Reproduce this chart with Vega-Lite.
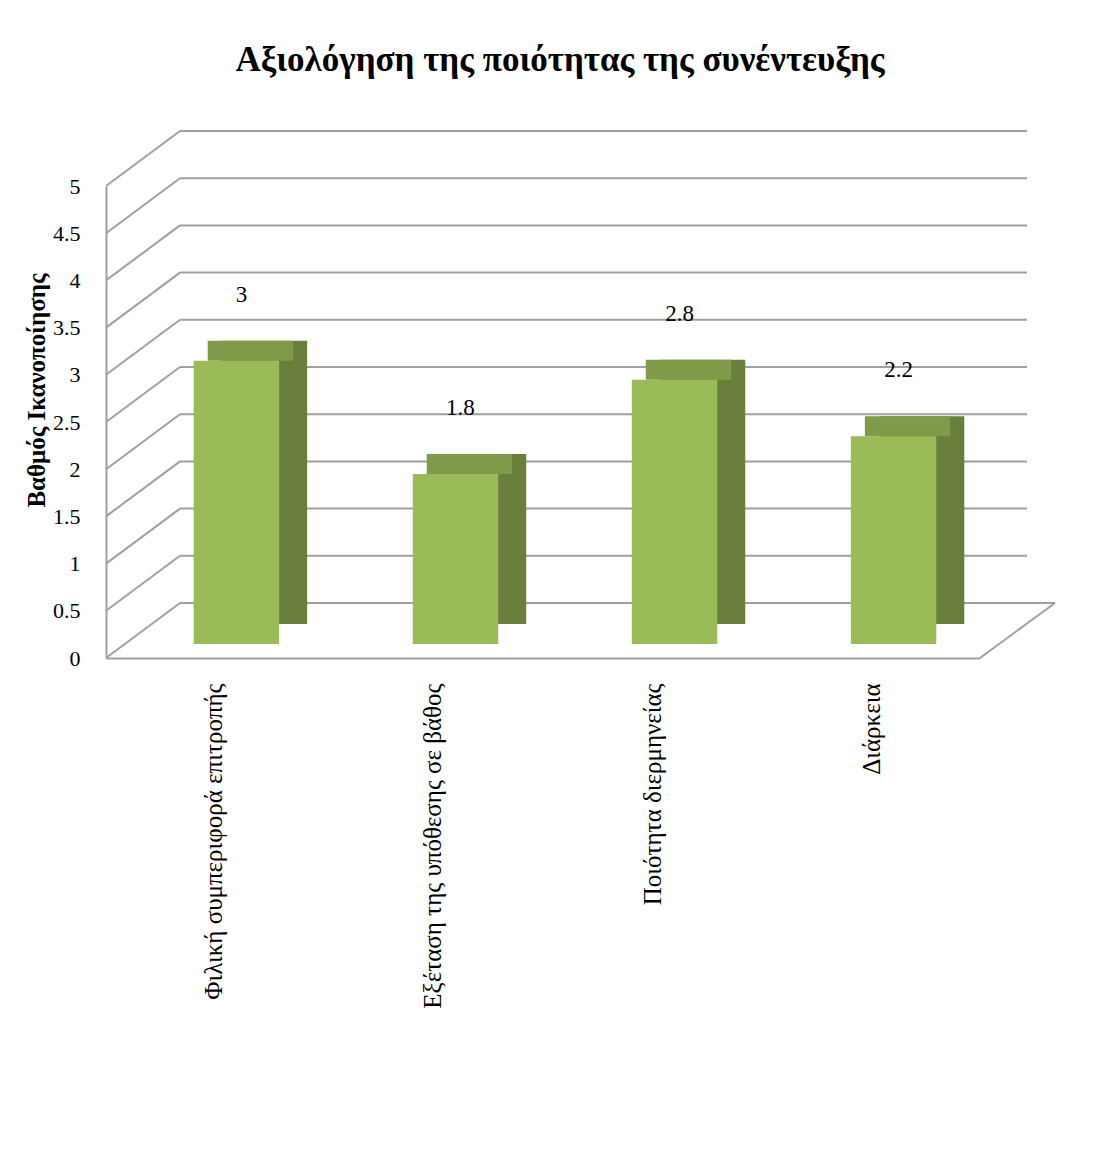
{
  "$schema": "https://vega.github.io/schema/vega-lite/v6.json",
  "autosize": "none",
  "width": 874,
  "height": 472,
  "padding": {"left": 106, "top": 186, "right": 121, "bottom": 495},
  "background": "white",
  "title": {
    "text": "Αξιολόγηση της ποιότητας της συνέντευξης",
    "font": "Liberation Serif",
    "fontSize": 35,
    "fontWeight": "bold",
    "color": "black",
    "anchor": "middle",
    "dx": 17,
    "offset": 52
  },
  "datasets": {
    "bars": [
      {"cat": "Φιλική συμπεριφορά επιτροπής", "val": 3},
      {"cat": "Εξέταση της υπόθεσης σε βάθος", "val": 1.8},
      {"cat": "Ποιότητα διερμηνείας", "val": 2.8},
      {"cat": "Διάρκεια", "val": 2.2}
    ],
    "grid": [
      {"v": 0}, {"v": 0.5}, {"v": 1}, {"v": 1.5}, {"v": 2}, {"v": 2.5},
      {"v": 3}, {"v": 3.5}, {"v": 4}, {"v": 4.5}, {"v": 5}
    ],
    "floor": [{"v": 0}]
  },
  "layer": [
    {
      "data": {"name": "grid"},
      "mark": {"type": "rule", "color": "#a0a0a0", "strokeWidth": 2, "xOffset": 74, "x2Offset": 47, "yOffset": -55, "y2Offset": -55},
      "encoding": {
        "x": {"value": 0},
        "x2": {"value": "width"},
        "y": {"field": "v", "type": "quantitative", "scale": {"domain": [0, 5]}, "title": "Βαθμός Ικανοποίησης"},
        "y2": {"field": "v"}
      }
    },
    {
      "data": {"name": "grid"},
      "mark": {"type": "rule", "color": "#a0a0a0", "strokeWidth": 2, "x2Offset": 74, "y2Offset": -55},
      "encoding": {
        "x": {"value": 0},
        "x2": {"value": 0},
        "y": {"field": "v", "type": "quantitative", "title": "Βαθμός Ικανοποίησης"},
        "y2": {"field": "v"}
      }
    },
    {
      "data": {"name": "floor"},
      "mark": {"type": "rule", "color": "#a0a0a0", "strokeWidth": 2, "xOffset": 74, "x2Offset": 75, "yOffset": -55, "y2Offset": -55},
      "encoding": {
        "x": {"value": 0},
        "x2": {"value": "width"},
        "y": {"field": "v", "type": "quantitative", "title": "Βαθμός Ικανοποίησης"},
        "y2": {"field": "v"}
      }
    },
    {
      "data": {"name": "floor"},
      "mark": {"type": "rule", "color": "#a0a0a0", "strokeWidth": 2, "x2Offset": 75, "y2Offset": -55},
      "encoding": {
        "x": {"value": "width"},
        "x2": {"value": "width"},
        "y": {"field": "v", "type": "quantitative", "title": "Βαθμός Ικανοποίησης"},
        "y2": {"field": "v"}
      }
    },
    {
      "data": {"name": "bars"},
      "mark": {"type": "bar", "color": "#6b7f3d", "xOffset": 50, "x2Offset": 50, "yOffset": -34, "y2Offset": -34},
      "encoding": {
        "x": {"field": "cat", "type": "nominal", "sort": null,
              "scale": {"paddingInner": 0.61, "paddingOuter": 0.3}},
        "y": {"field": "val", "type": "quantitative", "title": "Βαθμός Ικανοποίησης"}
      }
    },
    {
      "data": {"name": "bars"},
      "mark": {"type": "bar", "color": "#7f9a48", "xOffset": 36, "x2Offset": 36, "yOffset": -34, "y2Offset": -14},
      "encoding": {
        "x": {"field": "cat", "type": "nominal", "sort": null},
        "y": {"field": "val", "type": "quantitative", "title": "Βαθμός Ικανοποίησης"},
        "y2": {"field": "val"}
      }
    },
    {
      "data": {"name": "bars"},
      "mark": {"type": "bar", "color": "#9bbb59", "xOffset": 22, "x2Offset": 22, "yOffset": -14, "y2Offset": -14},
      "encoding": {
        "x": {"field": "cat", "type": "nominal", "sort": null},
        "y": {"field": "val", "type": "quantitative", "title": "Βαθμός Ικανοποίησης"}
      }
    },
    {
      "data": {"name": "bars"},
      "mark": {"type": "text", "font": "Liberation Serif", "fontSize": 23, "color": "black", "dx": 27, "dy": -80},
      "encoding": {
        "x": {"field": "cat", "type": "nominal", "sort": null},
        "y": {"field": "val", "type": "quantitative", "title": "Βαθμός Ικανοποίησης"},
        "text": {"field": "val", "type": "quantitative"}
      }
    }
  ],
  "config": {
    "view": {"stroke": null},
    "axisX": {
      "title": null,
      "labelAngle": -90,
      "labelFont": "Liberation Serif",
      "labelFontSize": 25,
      "labelColor": "black",
      "labelPadding": 25,
      "labelLimit": 0,
      "ticks": false,
      "domainColor": "#a0a0a0",
      "domainWidth": 2
    },
    "axisY": {
      "titleFont": "Liberation Serif",
      "titleFontSize": 25,
      "titleFontWeight": "bold",
      "titleColor": "black",
      "titleX": -70,
      "titleY": 204,
      "titleAngle": -90,
      "titleAlign": "center",
      "titleBaseline": "middle",
      "labelFont": "Liberation Serif",
      "labelFontSize": 22,
      "labelColor": "black",
      "labelPadding": 26,
      "format": "~g",
      "ticks": false,
      "grid": false,
      "tickCount": 10,
      "domainColor": "#a0a0a0",
      "domainWidth": 2
    }
  }
}
